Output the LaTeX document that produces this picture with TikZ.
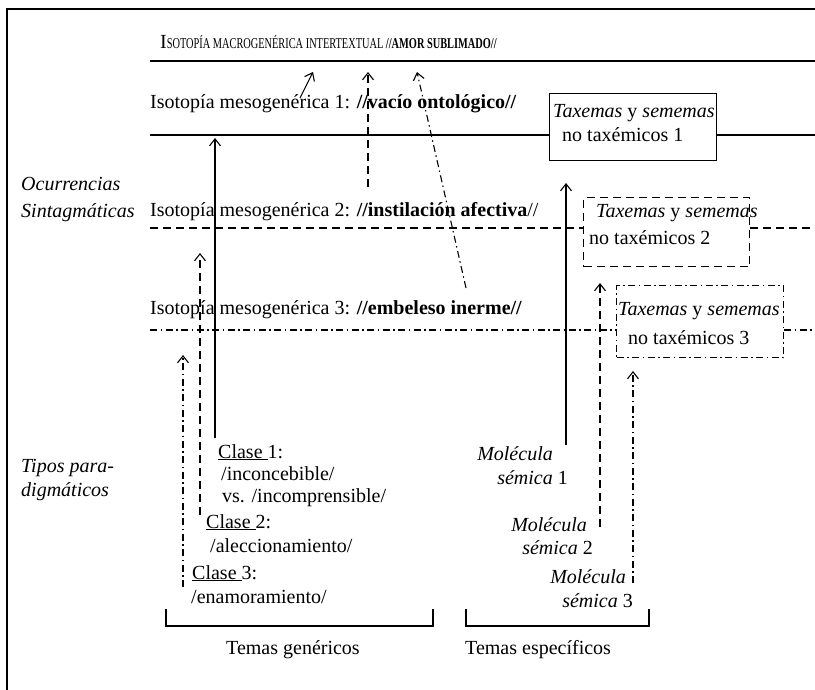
\documentclass[tikz,border=0pt]{standalone}
\usepackage{fontspec}
\usepackage{graphicx}
\setmainfont{Liberation Serif}
\usetikzlibrary{arrows.meta}
\begin{document}
\begin{tikzpicture}[x=1pt,y=-1pt,
  txt/.style={inner sep=0pt,anchor=base west,font=\fontsize{20}{24}\selectfont},
  txte/.style={txt,anchor=base east},
  frameline/.style={line width=2.5pt},
  isoline/.style={line width=1.3pt},
  arr/.style={line width=1.1pt,-{Straight Barb[length=7pt,width=11pt]}},
  dsh/.style={dash pattern=on 8pt off 5pt},
  dshdot/.style={dash pattern=on 7pt off 3.5pt on 1.5pt off 3.5pt},
  boxnode/.style={draw,line width=1.1pt,inner sep=0pt,anchor=north west},
]
\useasboundingbox (0,0) rectangle (815,690);
% frame
\coordinate (fbl) at (7,690);
\coordinate (ftl) at (7,9);
\coordinate (ftr) at (815,9);
\draw[frameline] (fbl) -- (ftl) -- (ftr);

% title
\node[txt] (title) at (160,49) {I\scalebox{0.69}[1]{\fontsize{15}{18}\selectfont SOTOPÍA MACROGENÉRICA INTERTEXTUAL \textbf{//AMOR SUBLIMADO//}}};
\coordinate (tl0) at (150,61);
\coordinate (tl1) at (815,61);
\draw[line width=2.5pt] (tl0) -- (tl1);

% meso 1
\node[txt] (meso1) at (150,109) {Isotopía mesogenérica 1: \textbf{//vacío ontológico//}};
\node[boxnode,minimum width=167pt,minimum height=67pt] (box1) at (549,93) {};
\node[txt] (b1a) at (553,118) {\textit{Taxemas} y \textit{sememas}};
\node[txt] (b1b) at (562,142) {no taxémicos 1};
\coordinate (l1a) at (150,135);
\coordinate (l1b) at (box1.west|-l1a);
\coordinate (l1c) at (box1.east|-l1a);
\coordinate (l1d) at (815,135);
\draw[isoline] (l1a) -- (l1b) (l1c) -- (l1d);

% side labels
\node[txt] (ocu) at (21,191) {\textit{Ocurrencias}};
\node[txt] (sin) at (21,218) {\textit{Sintagmáticas}};
\node[txt] (tip1) at (21,472) {\textit{Tipos para-}};
\node[txt] (tip2) at (21,496) {\textit{digmáticos}};

% meso 2
\node[txt] (meso2) at (150,217) {Isotopía mesogenérica 2: \textbf{//instilación afectiva}//};
\node[boxnode,dsh,minimum width=166pt,minimum height=69pt] (box2) at (583,197) {};
\node[txt] (b2a) at (596,218) {\textit{Taxemas} y \textit{sememas}};
\node[txt] (b2b) at (589,244) {no taxémicos 2};
\coordinate (l2a) at (150,228);
\coordinate (l2b) at (box2.west|-l2a);
\coordinate (l2c) at (box2.east|-l2a);
\coordinate (l2d) at (815,228);
\draw[isoline,dsh] (l2a) -- (l2b) (l2c) -- (l2d);

% meso 3
\node[txt] (meso3) at (150,315) {Isotopía mesogenérica 3: \textbf{//embeleso inerme//}};
\node[boxnode,dshdot,minimum width=167pt,minimum height=72pt] (box3) at (616,285) {};
\node[txt] (b3a) at (618,316) {\textit{Taxemas} y \textit{sememas}};
\node[txt] (b3b) at (628,344) {no taxémicos 3};
\coordinate (l3a) at (150,330);
\coordinate (l3b) at (box3.west|-l3a);
\coordinate (l3c) at (box3.east|-l3a);
\coordinate (l3d) at (815,330);
\draw[isoline,dshdot] (l3a) -- (l3b) (l3c) -- (l3d);

% classes
\node[txt] (c1a) at (218,458) {\underline{Clase\ }1:};
\node[txt] (c1b) at (221,480) {/inconcebible/};
\node[txt] (c1c) at (222,502) {vs. /incomprensible/};
\node[txt] (c2a) at (206,528) {\underline{Clase\ }2:};
\node[txt] (c2b) at (210,552) {/aleccionamiento/};
\node[txt] (c3a) at (192,579) {\underline{Clase\ }3:};
\node[txt] (c3b) at (191,603) {/enamoramiento/};

% molecules
\node[txte] (m1a) at (553,460) {\textit{Molécula}};
\node[txte] (m1b) at (568,484) {\textit{sémica} 1};
\node[txte] (m2a) at (587,531) {\textit{Molécula}};
\node[txte] (m2b) at (593,554) {\textit{sémica} 2};
\node[txte] (m3a) at (626,583) {\textit{Molécula}};
\node[txte] (m3b) at (633,607) {\textit{sémica} 3};

% arrows to macro
\coordinate (am1s) at (300,98);  \coordinate (am1e) at (313,72);
\coordinate (am2s) at (368,187); \coordinate (am2e) at (368,72);
\coordinate (am3s) at (466,288); \coordinate (am3e) at (417,72);
\draw[arr] (am1s) -- (am1e);
\draw[arr,dsh] (am2s) -- (am2e);
\draw[arr,dshdot] (am3s) -- (am3e);

% arrows from classes
\coordinate (ac1s) at (215,438); \coordinate (ac1e) at (215,138);
\coordinate (ac2s) at (200,515); \coordinate (ac2e) at (200,253);
\coordinate (ac3s) at (183,587); \coordinate (ac3e) at (183,355);
\draw[arr] (ac1s) -- (ac1e);
\draw[arr,dsh] (ac2s) -- (ac2e);
\draw[arr,dshdot] (ac3s) -- (ac3e);

% arrows from molecules
\coordinate (amo1s) at (566,445); \coordinate (amo1e) at (566,183);
\coordinate (amo2s) at (600,527); \coordinate (amo2e) at (600,283);
\coordinate (amo3s) at (633,583); \coordinate (amo3e) at (633,371);
\draw[arr] (amo1s) -- (amo1e);
\draw[arr,dsh] (amo2s) -- (amo2e);
\draw[arr,dshdot] (amo3s) -- (amo3e);

% brackets
\coordinate (bg1) at (166,609); \coordinate (bg2) at (166,626);
\coordinate (bg3) at (433,626); \coordinate (bg4) at (433,609);
\draw[line width=1.1pt] (bg1) -- (bg2) -- (bg3) -- (bg4);
\coordinate (be1) at (466,609); \coordinate (be2) at (466,626);
\coordinate (be3) at (649,626); \coordinate (be4) at (649,609);
\draw[line width=1.1pt] (be1) -- (be2) -- (be3) -- (be4);
\node[txt] (tg) at (226,654) {Temas genéricos};
\node[txt] (te) at (465,654) {Temas específicos};
\end{tikzpicture}
\end{document}
